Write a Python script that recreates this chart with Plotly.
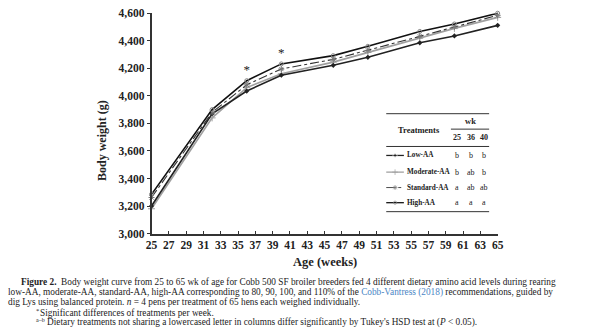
import plotly.graph_objects as go

weeks = [25, 32, 36, 40, 46, 50, 56, 60, 65]
low_aa = [3200, 3870, 4035, 4150, 4222, 4280, 4385, 4435, 4512]
moderate_aa = [3180, 3840, 4060, 4160, 4245, 4315, 4420, 4490, 4570]
standard_aa = [3262, 3880, 4080, 4195, 4265, 4330, 4432, 4500, 4585]
high_aa = [3285, 3900, 4110, 4232, 4292, 4360, 4468, 4522, 4600]

star_weeks = [36, 40]
star_y = [4182, 4308]

table_weeks = ["25", "36", "40"]
treatments = ["Low-AA", "Moderate-AA", "Standard-AA", "High-AA"]
letters_low = ["b", "b", "b"]
letters_mod = ["b", "ab", "b"]
letters_std = ["a", "ab", "ab"]
letters_high = ["a", "a", "a"]

FONT = "Liberation Serif"
W, H = 600, 335


def px(x):
    return x / W


def py(y):
    return 1 - y / H


styles = {
    "Low-AA": dict(line=dict(color="#222", width=1.6), marker=dict(symbol="diamond", size=4, color="#222")),
    "Moderate-AA": dict(line=dict(color="#a0a0a0", width=1.6), marker=dict(symbol="cross-thin-open", size=5, color="#a0a0a0", line=dict(width=1, color="#a0a0a0"))),
    "Standard-AA": dict(line=dict(color="#333", width=1.1, dash="dashdot"), marker=dict(symbol="asterisk-open", size=5, color="#777", line=dict(width=1, color="#777"))),
    "High-AA": dict(line=dict(color="#111", width=1.6), marker=dict(symbol="circle-open", size=4, color="#888", line=dict(width=1, color="#888"))),
}
series = {"Low-AA": low_aa, "Moderate-AA": moderate_aa, "Standard-AA": standard_aa, "High-AA": high_aa}

fig = go.Figure()
for name in ["Moderate-AA", "Low-AA", "Standard-AA", "High-AA"]:
    fig.add_trace(go.Scatter(x=weeks, y=series[name], mode="lines+markers", name=name,
                             cliponaxis=False, showlegend=False, **styles[name]))

fig.add_trace(go.Scatter(x=star_weeks, y=star_y, mode="text", text=["*"] * len(star_weeks),
                         textfont=dict(family=FONT, size=13, color="#222"), showlegend=False,
                         cliponaxis=False))

# legend samples on a full-page pixel axis pair
row_y = [155, 172.3, 188.3, 204]
for name, yy in zip(treatments, row_y):
    st = styles[name]
    line = dict(st["line"], width=st["line"]["width"] * 0.8)
    fig.add_trace(go.Scatter(x=[388, 397, 406], y=[yy, yy, yy], xaxis="x2", yaxis="y2",
                             mode="lines+markers", line=line,
                             marker=dict(st["marker"], size=[0, st["marker"]["size"] * 0.8, 0]),
                             showlegend=False, hoverinfo="skip", cliponaxis=False))

fig.update_layout(
    width=W, height=H, margin=dict(l=0, r=0, t=0, b=0),
    plot_bgcolor="rgba(0,0,0,0)", paper_bgcolor="white",
    font=dict(family=FONT, color="#222"),
    xaxis=dict(domain=[px(148.5), px(501.7)], range=[25, 65], tick0=25, dtick=2,
               showline=True, linecolor="#333", linewidth=1.5, ticks="inside", ticklen=3,
               tickcolor="#333", showgrid=False, zeroline=False,
               tickfont=dict(family=FONT, size=11.5, weight="bold", color="#222")),
    yaxis=dict(domain=[py(236), py(7.5)], range=[3000, 4600], dtick=200, tickformat=",",
               showline=True, linecolor="#333", linewidth=1.5, ticks="outside", ticklen=3,
               tickcolor="#333", showgrid=False, zeroline=False,
               tickfont=dict(family=FONT, size=11.5, weight="bold", color="#222")),
    xaxis2=dict(domain=[0, 1], range=[0, W], visible=False, anchor="y2"),
    yaxis2=dict(domain=[0, 1], range=[H, 0], visible=False, anchor="x2"),
)

ann = []


def text(x, y, s, size=8.5, anchor="left", bold=True, color="#222", **kw):
    ann.append(dict(x=px(x), y=py(y), xref="paper", yref="paper", text=s, showarrow=False,
                    xanchor=anchor, yanchor="middle",
                    font=dict(family=FONT, size=size, color=color, weight="bold" if bold else "normal"), **kw))


text(325, 265, "Age (weeks)", size=12.5, anchor="center")
ann.append(dict(x=px(98), y=py(140), xref="paper", yref="paper", text="Body weight (g)", showarrow=False,
                textangle=-90, xanchor="center", yanchor="middle",
                font=dict(family=FONT, size=12, weight="bold", color="#222")))

# table
text(421.7, 128.3, "Treatments", size=8.5, anchor="center")
text(473.5, 119.3, "wk", size=8.5, anchor="center")
col_x = [460.7, 474, 487.3]
for cx, w in zip(col_x, table_weeks):
    text(cx, 136.7, w, size=8, anchor="center")
all_letters = [letters_low, letters_mod, letters_std, letters_high]
for name, yy, lets in zip(treatments, row_y, all_letters):
    text(407, yy, name, size=7.2)
    for cx, l in zip(col_x, lets):
        text(cx, yy, l, size=8, anchor="center", bold=False)

shapes = []
for (x0, x1, y) in [(388, 493, 111.7), (454, 493, 127.7), (388, 493, 145.7), (388, 493, 213.3)]:
    shapes.append(dict(type="line", xref="paper", yref="paper", x0=px(x0), x1=px(x1), y0=py(y), y1=py(y),
                       line=dict(color="#333", width=1)))

# caption
cap = 9.3
text(13, 286.5, "<b>Figure 2.</b>  Body weight curve from 25 to 65 wk of age for Cobb 500 SF broiler breeders fed 4 different dietary amino acid levels during rearing", size=cap, bold=False)
text(0, 297, "low-AA, moderate-AA, standard-AA, high-AA corresponding to 80, 90, 100, and 110% of the <span style='color:#4a86c5'>Cobb-Vantress (2018)</span> recommendations, guided by", size=cap, bold=False)
text(0, 307, "dig Lys using balanced protein. <i>n</i> = 4 pens per treatment of 65 hens each weighed individually.", size=cap, bold=False)
text(29, 316, "*", size=6.5, bold=False)
text(32.5, 318, "Significant differences of treatments per week.", size=cap, bold=False)
text(29, 326, "a–b", size=6, bold=False)
text(39.5, 328.5, "Dietary treatments not sharing a lowercased letter in columns differ significantly by Tukey's HSD test at (<i>P</i> < 0.05).", size=cap, bold=False)

fig.update_layout(annotations=ann, shapes=shapes)
fig.write_html("out.html")
